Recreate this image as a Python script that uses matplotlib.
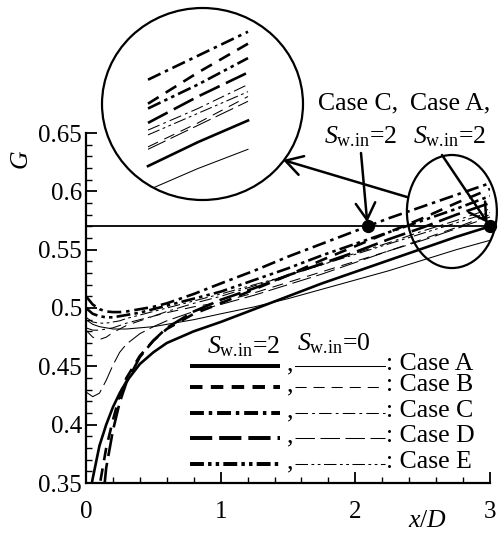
import numpy as np
import matplotlib
matplotlib.use("Agg")
import matplotlib.pyplot as plt
from matplotlib.lines import Line2D
from matplotlib.patches import Ellipse

plt.rcParams['font.family'] = ['Liberation Serif', 'DejaVu Serif']
plt.rcParams['mathtext.fontset'] = 'custom'
plt.rcParams['mathtext.rm'] = 'Liberation Serif'
plt.rcParams['mathtext.it'] = 'Liberation Serif:italic'
plt.rcParams['lines.scale_dashes'] = False

# ---- data: G along x/D for five cases, swirl 2 (thick) and swirl 0 (thin)
x = np.array([0, 0.05, 0.1, 0.15, 0.2, 0.25, 0.3, 0.4, 0.5, 0.6, 0.8,
              1.0, 1.25, 1.5, 1.75, 2.0, 2.25, 2.5, 2.75, 3.0])

A2 = [0.322, 0.354, 0.382, 0.400, 0.415, 0.427, 0.437, 0.452, 0.462, 0.470, 0.480,
      0.488, 0.499, 0.510, 0.521, 0.531, 0.541, 0.551, 0.561, 0.570]
B2 = [0.200, 0.270, 0.347, 0.380, 0.404, 0.425, 0.440, 0.459, 0.472, 0.482, 0.495,
      0.504, 0.516, 0.528, 0.541, 0.553, 0.565, 0.577, 0.590, 0.602]
C2 = [0.510, 0.503, 0.499, 0.497, 0.4965, 0.4965, 0.497, 0.499, 0.501, 0.504, 0.512,
      0.521, 0.532, 0.544, 0.555, 0.566, 0.577, 0.587, 0.597, 0.607]
D2 = [0.180, 0.240, 0.305, 0.363, 0.395, 0.419, 0.436, 0.458, 0.472, 0.483, 0.497,
      0.507, 0.517, 0.528, 0.538, 0.548, 0.559, 0.569, 0.580, 0.590]
E2 = [0.500, 0.495, 0.493, 0.492, 0.492, 0.493, 0.494, 0.496, 0.499, 0.502, 0.508,
      0.514, 0.524, 0.534, 0.545, 0.555, 0.565, 0.575, 0.585, 0.596]

A0 = [0.490, 0.486, 0.484, 0.483, 0.482, 0.482, 0.482, 0.483, 0.484, 0.486, 0.490,
      0.495, 0.501, 0.508, 0.516, 0.524, 0.532, 0.541, 0.550, 0.558]
B0 = [0.481, 0.475, 0.473, 0.475, 0.479, 0.482, 0.485, 0.489, 0.493, 0.496, 0.501,
      0.505, 0.513, 0.522, 0.531, 0.540, 0.549, 0.559, 0.569, 0.580]
C0 = [0.483, 0.481, 0.481, 0.482, 0.483, 0.485, 0.487, 0.490, 0.493, 0.497, 0.504,
      0.510, 0.519, 0.528, 0.537, 0.547, 0.556, 0.566, 0.575, 0.585]
D0 = [0.428, 0.424, 0.427, 0.438, 0.451, 0.462, 0.469, 0.478, 0.484, 0.489, 0.497,
      0.503, 0.511, 0.520, 0.529, 0.539, 0.549, 0.558, 0.568, 0.578]
E0 = [0.492, 0.488, 0.487, 0.487, 0.488, 0.489, 0.491, 0.494, 0.497, 0.500, 0.506,
      0.512, 0.520, 0.528, 0.537, 0.546, 0.555, 0.564, 0.573, 0.582]

case_names = ['Case A', 'Case B', 'Case C', 'Case D', 'Case E']
swirl2 = [A2, B2, C2, D2, E2]
swirl0 = [A0, B0, C0, D0, E0]
yticks = [0.35, 0.4, 0.45, 0.5, 0.55, 0.6, 0.65]
xticks = [0, 1, 2, 3]

# line styles (points), thick for S=2, thin for S=0
ls_thick = ['-', (0, (9, 6)), (0, (10, 3.5, 2.5, 3.5)), (0, (16, 5)),
            (0, (10, 3, 2.5, 3, 2.5, 3))]
ls_thin = ['-', (0, (8, 5)), (0, (9, 3, 2, 3)), (0, (14, 4)),
           (0, (9, 2.5, 2, 2.5, 2, 2.5))]
lw_thick, lw_thin = 1.9, 0.75
FS = 18.5
SW = r'$S_{\mathrm{w.\!in}}$'

W, H = 501, 542
fig = plt.figure(figsize=(W / 100, H / 100), dpi=100)


def fpx(px, py):
    return (px / W, 1 - py / H)


ax = fig.add_axes([86 / W, 1 - 483 / H, 404 / W, 350 / H])

for y2, ls in zip(swirl2, ls_thick):
    ax.plot(x, y2, color='black', lw=lw_thick, ls=ls, solid_capstyle='butt')
for y0, ls in zip(swirl0, ls_thin):
    ax.plot(x, y0, color='black', lw=lw_thin, ls=ls)

ax.set_xlim(0, 3)
ax.set_ylim(0.35, 0.65)
ax.set_xticks(xticks)
ax.set_yticks(yticks)
ax.set_xticklabels([f'{v:g}' for v in xticks])
ax.set_yticklabels([f'{v:g}' for v in yticks])
ax.xaxis.set_minor_locator(matplotlib.ticker.MultipleLocator(0.2))
ax.yaxis.set_minor_locator(matplotlib.ticker.MultipleLocator(0.01))
ax.tick_params(which='major', direction='in', length=8, width=1.3, labelsize=18)
ax.tick_params(which='minor', direction='in', length=4.5, width=1.0)
ax.tick_params(axis='y', which='major', pad=3)
ax.tick_params(axis='x', which='major', pad=13)
for s in ['top', 'right']:
    ax.spines[s].set_visible(False)
for s in ['left', 'bottom']:
    ax.spines[s].set_linewidth(1.6)

# axis titles
fig.text(*fpx(22, 160), '$G$', fontsize=FS, rotation=90, ha='center', va='center')
fig.text(*fpx(428, 521), '$x/D$', fontsize=FS, ha='center', va='center')

# reference level of Case A (S=2) at the outlet and the Case C crossing
xa_end, ya_end = x[-1], A2[-1]
mask = x >= 1.0
xc = float(np.interp(ya_end, np.array(C2)[mask], x[mask]))
ax.plot([0, xa_end], [ya_end, ya_end], color='black', lw=1.3)
ax.plot([xc, xa_end], [ya_end, ya_end], 'o', color='black', ms=8.5, clip_on=False, zorder=5)

# zoom region ellipse
ell = Ellipse((2.717, 0.5827), 0.668, 0.0969, fill=False, lw=1.6, color='black',
              clip_on=False, zorder=4)
ax.add_patch(ell)

# magnified view inside a circle
ins = fig.add_axes([102 / W, 1 - 200 / H, 201 / W, 192 / H])
ins.set_axis_off()
circ = Ellipse((0.5, 0.5), 1, 1, transform=ins.transAxes, fill=False, lw=1.6,
               color='black', clip_on=False)
ins.add_patch(circ)
sel = x >= 2.5
for y2, ls in zip(swirl2, ls_thick):
    ln, = ins.plot(x[sel], np.array(y2)[sel], color='black', lw=lw_thick, ls=ls)
    ln.set_clip_path(circ)
for y0, ls in zip(swirl0, ls_thin):
    ln, = ins.plot(x[sel], np.array(y0)[sel], color='black', lw=lw_thin, ls=ls)
    ln.set_clip_path(circ)
ins.set_xlim(2.5 - 46 / 200, 3.0 + 55 / 200)
ins.set_ylim(0.607 - 168.3 / 2400, 0.607 + 23.7 / 2400)

# arrows and annotations
arrow = dict(arrowstyle='->,head_length=0.6,head_width=0.35', lw=1.8, color='black',
             mutation_scale=20, shrinkA=0, shrinkB=0)
ax.annotate('', xy=fpx(283, 160), xycoords='figure fraction',
            xytext=fpx(407, 197), textcoords='figure fraction',
            arrowprops=arrow, annotation_clip=False)

lbl = SW + '=2'
fig.text(*fpx(358, 103), 'Case C,', fontsize=FS, ha='center', va='center')
fig.text(*fpx(361, 137), lbl, fontsize=FS, ha='center', va='center')
fig.text(*fpx(450, 103), 'Case A,', fontsize=FS, ha='center', va='center')
fig.text(*fpx(450, 137), lbl, fontsize=FS, ha='center', va='center')
arrow2 = dict(arrow, shrinkB=3)
ax.annotate('', xy=(xc, ya_end), xycoords='data',
            xytext=fpx(361, 153), textcoords='figure fraction',
            arrowprops=arrow2, annotation_clip=False)
ax.annotate('', xy=(xa_end, ya_end), xycoords='data',
            xytext=fpx(442, 155), textcoords='figure fraction',
            arrowprops=arrow2, annotation_clip=False)

# legend block
def apx(px, py):
    return ((px - 86) / 404, (483 - py) / 350)


rows = [365.7, 386.7, 412.5, 437.5, 463.7]
tr = ax.transAxes
ax.text(*apx(207, 353), SW + '=2', transform=tr, fontsize=FS,
        ha='left', va='baseline')
ax.text(*apx(297, 350), SW + '=0', transform=tr, fontsize=FS,
        ha='left', va='baseline')
for ry, name, lt, ln_ in zip(rows, case_names, ls_thick, ls_thin):
    (x1, y1), (x2, _) = apx(190, ry), apx(280, ry)
    ax.add_line(Line2D([x1, x2], [y1, y1], transform=tr, color='black',
                       lw=lw_thick * 1.5, ls=lt, solid_capstyle='butt'))
    (x3, _), (x4, _) = apx(295, ry), apx(385, ry)
    ax.add_line(Line2D([x3, x4], [y1, y1], transform=tr, color='black',
                       lw=lw_thin, ls=ln_))
    ax.text(*apx(287, ry + 4.5), ',', transform=tr, fontsize=FS, ha='left',
            va='baseline')
    ax.text(*apx(386, ry + 4.5), ': ' + name, transform=tr, fontsize=FS,
            ha='left', va='baseline')

fig.savefig('out.png', dpi=100)
